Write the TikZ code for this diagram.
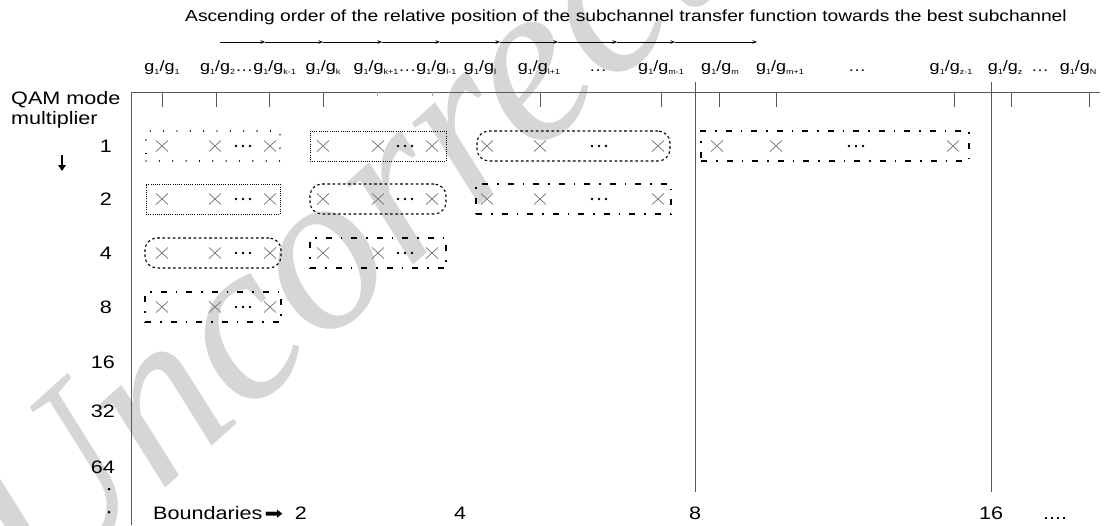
\documentclass[tikz,border=0pt]{standalone}
\usepackage{fontspec}
\setmainfont{Liberation Sans}[FakeStretch=1.2]
\newfontfamily\wmfont{Liberation Serif}
\newfontfamily\symfont{DejaVu Sans}[FakeStretch=1.3]
\usetikzlibrary{arrows.meta}
\newcommand{\sbx}[1]{\raisebox{-0.2em}{\fontsize{7.5}{8}\selectfont #1}}
\newcommand{\grat}[2]{g\sbx{#1}/g\sbx{#2}}
\tikzset{
  ax/.style={draw=black!65, line width=0.8pt},
  crs/.style={draw=black!55, line width=0.7pt},
  hd/.style={anchor=base, inner sep=0pt, font=\fontsize{15}{18}\selectfont},
  rl/.style={anchor=east, inner sep=0pt, font=\fontsize{18}{20}\selectfont},
  bl/.style={anchor=base, inner sep=0pt, font=\fontsize{18}{20}\selectfont},
  bx/.style={inner sep=0pt, minimum height=30pt},
  loosedot/.style={bx, draw, line width=1.3pt, line cap=round, dash pattern=on 0.05pt off 13.3pt},
  densedot/.style={bx, draw, line width=0.9pt, dash pattern=on 0.9pt off 1.3pt},
  pillbox/.style={bx, draw, line width=1.1pt, dash pattern=on 2.6pt off 2.6pt, rounded corners=12pt},
  dashdot/.style={bx, draw, line width=1.1pt, dash pattern=on 6pt off 9pt on 1.5pt off 9pt},
  seg/.style={draw=black, line width=0.7pt, -{Stealth[length=4.5pt,width=3.5pt]}},
  xmark/.pic={\draw[crs] (-6,-5.5) -- (6,5.5) (-6,5.5) -- (6,-5.5);},
  tdots/.pic={\fill (-7,0) circle[radius=1.3pt] (0,0) circle[radius=1.3pt] (7,0) circle[radius=1.3pt];}
}
\begin{document}
\begin{tikzpicture}[x=1pt,y=-1pt]
\useasboundingbox (0,0) rectangle (1110,525);
\fill[white] (0,0) rectangle (1110,525);
% watermark
\begin{scope}
\clip (0,0) rectangle (1110,525);
\node[anchor=base west, inner sep=0pt, rotate=42, text=black!16, font=\wmfont\itshape\fontsize{230}{240}\selectfont] (wm) at (36,605) {Uncorrected};
\end{scope}
% title
\node[anchor=base, inner sep=0pt, font=\fontsize{16}{19}\selectfont] (title) at (626,21) {Ascending order of the relative position of the subchannel transfer function towards the best subchannel};
% top arrow chain
\foreach \i/\x in {0/220,1/265,2/323,3/382,4/440,5/500,6/558,7/617,8/675,9/757} \coordinate (a\i) at (\x,42);
\foreach \i [evaluate=\i as \j using int(\i+1)] in {0,...,8} \draw[seg] (a\i) -- (a\j);
% header labels
\node[hd] (h1) at (162,71) {\grat{1}{1}};
\node[hd] (h2) at (248,71) {\grat{1}{2}…\grat{1}{k-1}};
\node[hd] (h3) at (323,71) {\grat{1}{k}};
\node[hd] (h4) at (405,71) {\grat{1}{k+1}…\grat{1}{l-1}};
\node[hd] (h5) at (480,71) {\grat{1}{l}};
\node[hd] (h6) at (539,71) {\grat{1}{l+1}};
\node[hd] (h7) at (598,71) {…};
\node[hd] (h8) at (661,71) {\grat{1}{m-1}};
\node[hd] (h9) at (720,71) {\grat{1}{m}};
\node[hd] (h10) at (780,71) {\grat{1}{m+1}};
\node[hd] (h11) at (857,71) {…};
\node[hd] (h12) at (951,71) {\grat{1}{z-1}};
\node[hd] (h13) at (1005,71) {\grat{1}{z}};
\node[hd] (h14) at (1040,71) {…};
\node[hd] (h15) at (1078,71) {\grat{1}{N}};
% axes
\coordinate (o) at (131,92);
\coordinate (xe) at (1100,92);
\coordinate (ye) at (131,525);
\draw[ax] (xe) -- (o) -- (ye);
\foreach \x in {162,216,269,323,540,661,719,776,954,1011,1089} \draw[ax] (\x,92) -- (\x,107);
\foreach \x in {377,432} \draw[black!35, line width=0.6pt] (\x,92) -- (\x,96);
\coordinate (l8t) at (695,82); \coordinate (l8b) at (695,492);
\coordinate (l16t) at (991,82); \coordinate (l16b) at (991,492);
\draw[ax] (l8t) -- (l8b);
\draw[ax] (l16t) -- (l16b);
% left labels
\node[anchor=base west, inner sep=0pt, font=\fontsize{18}{20}\selectfont] (qam) at (11,104) {QAM mode};
\node[anchor=base west, inner sep=0pt, font=\fontsize{18}{20}\selectfont] (mult) at (11,124) {multiplier};
\coordinate (da1) at (62,155); \coordinate (da2) at (62,171);
\draw[line width=2.2pt, -{Triangle[length=6pt,width=7.5pt]}] (da1) -- (da2);
\node[rl] (r1) at (112,146) {1};
\node[rl] (r2) at (112,199) {2};
\node[rl] (r4) at (112,253) {4};
\node[rl] (r8) at (112,307) {8};
\node[rl] (r16) at (115,362) {16};
\node[rl] (r32) at (115,411) {32};
\node[rl] (r64) at (115,467) {64};
\fill (109,489) circle[radius=1.5pt] (109,512) circle[radius=1.5pt];
% boxes
\node[loosedot, minimum width=134pt] (b11) at (213,146) {};
\node[densedot, minimum width=136pt] (b12) at (378,146) {};
\node[pillbox, minimum width=193pt] (b13) at (573.5,146) {};
\node[dashdot, minimum width=268pt] (b14) at (835,146) {};
\node[densedot, minimum width=134pt] (b21) at (213,199) {};
\node[pillbox, minimum width=136pt] (b22) at (378,199) {};
\node[dashdot, minimum width=195pt] (b23) at (573.5,199) {};
\node[pillbox, minimum width=136pt] (b31) at (213,253) {};
\node[dashdot, minimum width=136pt] (b32) at (378,253) {};
\node[dashdot, minimum width=136pt] (b41) at (213,307) {};
% crosses and dots
\foreach \y in {146,199,253,307} {\foreach \x in {162,215,270} \pic at (\x,\y) {xmark}; \pic at (243,\y) {tdots};}
\foreach \y in {146,199,253} {\foreach \x in {323,378,432} \pic at (\x,\y) {xmark}; \pic at (405,\y) {tdots};}
\foreach \y in {146,199} {\foreach \x in {487,540,658} \pic at (\x,\y) {xmark}; \pic at (599,\y) {tdots};}
\foreach \x in {717,776,953} \pic at (\x,146) {xmark};
\pic at (856,146) {tdots};
% bottom labels
\node[anchor=base west, inner sep=0pt, font=\fontsize{18}{20}\selectfont] (bnd) at (153,519) {Boundaries};
\node[bl, font=\symfont\fontsize{17}{20}\selectfont] (barr) at (274,519) {➡};
\node[bl] (v2) at (301,519) {2};
\node[bl] (v4) at (460,519) {4};
\node[bl] (v8) at (695,519) {8};
\node[bl] (v16) at (991,519) {16};
\node[bl] (vd) at (1055,519) {....};
\end{tikzpicture}
\end{document}
